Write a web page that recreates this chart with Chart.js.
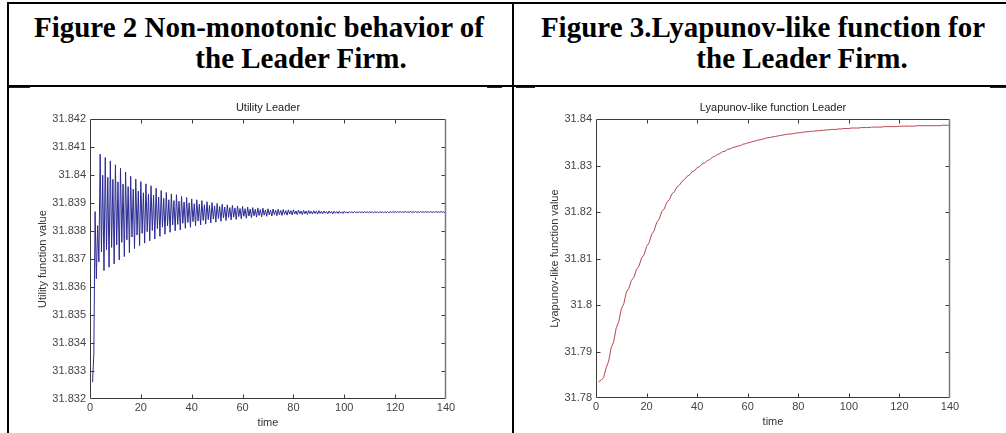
<!DOCTYPE html>
<html>
<head>
<meta charset="utf-8">
<script src="https://cdn.jsdelivr.net/npm/chart.js@4.4.1/dist/chart.umd.min.js"></script>
<style>
  html, body { margin: 0; padding: 0; background: #fff; }
  body { width: 1006px; height: 433px; position: relative; overflow: hidden; }
  .rule { position: absolute; background: #000; }
  .seg { position: absolute; background: #222; height: 1px; }
  .head {
    position: absolute; width: 500px; text-align: center; white-space: nowrap;
    font-family: 'Liberation Serif', 'Times New Roman', serif; font-weight: bold;
    font-size: 29px; line-height: 31px; color: #000;
  }
  canvas { position: absolute; }
</style>
</head>
<body>
<div class="rule" style="left:7px;top:2px;width:999px;height:2px"></div>
<div class="rule" style="left:7px;top:2px;width:2px;height:431px"></div>
<div class="rule" style="left:512px;top:2px;width:2px;height:431px"></div>
<div class="rule" style="left:7px;top:85px;width:999px;height:2px"></div>
<div class="seg" style="left:9px;top:87px;width:21px"></div>
<div class="seg" style="left:487px;top:87px;width:15px"></div>
<div class="seg" style="left:516px;top:87px;width:19px"></div>
<div class="seg" style="left:990px;top:87px;width:16px"></div>

<div class="head" style="left:9px;top:12px">Figure 2 Non-monotonic behavior of</div>
<div class="head" style="left:51px;top:43px">the Leader Firm.</div>
<div class="head" style="left:513px;top:12px">Figure 3.Lyapunov-like function for</div>
<div class="head" style="left:552px;top:43px">the Leader Firm.</div>

<canvas id="utilityChart" width="495" height="341" style="left:10px;top:92px"></canvas>
<canvas id="lyapunovChart" width="490" height="341" style="left:516px;top:92px"></canvas>

<script>
// time axis (both figures)
const timeTicks = [0, 20, 40, 60, 80, 100, 120, 140];

// Utility Leader, sampled every half time unit from t = 1
const utilityStart = 1;
const utilityStep = 0.5;
const utilityValues = [
  31.8326, 31.8336, 31.8387, 31.8363, 31.8382, 31.8369,
  31.84075, 31.83726, 31.84000, 31.83659,  31.84063, 31.83734, 31.83992, 31.83671,
  31.84051, 31.83742, 31.83985, 31.83683,  31.84037, 31.83751, 31.83976, 31.83697,
  31.84025, 31.83760, 31.83968, 31.83709,  31.84011, 31.83769, 31.83959, 31.83723,
  31.83996, 31.83779, 31.83950, 31.83738,  31.83986, 31.83786, 31.83943, 31.83748,
  31.83977, 31.83792, 31.83937, 31.83757,  31.83969, 31.83798, 31.83932, 31.83765,
  31.83962, 31.83802, 31.83928, 31.83772,  31.83953, 31.83809, 31.83922, 31.83781,
  31.83945, 31.83814, 31.83917, 31.83789,  31.83938, 31.83819, 31.83912, 31.83796,
  31.83933, 31.83822, 31.83909, 31.83801,  31.83930, 31.83824, 31.83907, 31.83804,
  31.83924, 31.83828, 31.83904, 31.83810,  31.83920, 31.83831, 31.83901, 31.83814,
  31.83915, 31.83834, 31.83898, 31.83819,  31.83912, 31.83836, 31.83896, 31.83822,
  31.83909, 31.83838, 31.83894, 31.83825,  31.83905, 31.83841, 31.83892, 31.83829,
  31.83902, 31.83843, 31.83890, 31.83832,  31.83899, 31.83845, 31.83888, 31.83835,
  31.83896, 31.83847, 31.83886, 31.83838,  31.83894, 31.83849, 31.83884, 31.83840,
  31.83892, 31.83850, 31.83883, 31.83842,  31.83890, 31.83852, 31.83881, 31.83844,
  31.83888, 31.83853, 31.83880, 31.83846,  31.83886, 31.83854, 31.83879, 31.83848,
  31.83884, 31.83855, 31.83878, 31.83850,  31.83883, 31.83856, 31.83877, 31.83851,
  31.83882, 31.83857, 31.83876, 31.83853,  31.83880, 31.83858, 31.83875, 31.83854,
  31.83879, 31.83859, 31.83875, 31.83855,  31.83878, 31.83859, 31.83874, 31.83856,
  31.83877, 31.83860, 31.83873, 31.83857,  31.83876, 31.83861, 31.83873, 31.83858,
  31.83876, 31.83861, 31.83872, 31.83859,  31.83875, 31.83862, 31.83872, 31.83859,
  31.83874, 31.83862, 31.83872, 31.83860,  31.83874, 31.83863, 31.83871, 31.83861,
  31.83873, 31.83863, 31.83871, 31.83861,  31.83873, 31.83863, 31.83871, 31.83862,
  31.83872, 31.83864, 31.83870, 31.83862,  31.83872, 31.83864, 31.83870, 31.83862,
  31.83871, 31.83864, 31.83870, 31.83863,  31.83871, 31.83864, 31.83869, 31.83863,
  31.83871, 31.83865, 31.83869, 31.83864,
  31.83870, 31.83866, 31.83869, 31.83865,  31.83870, 31.83866, 31.83869, 31.83865,
  31.83870, 31.83866, 31.83869, 31.83865,  31.83870, 31.83866, 31.83869, 31.83865,
  31.83870, 31.83866, 31.83869, 31.83865,  31.83870, 31.83866, 31.83869, 31.83865,
  31.83870, 31.83866, 31.83869, 31.83865,  31.83870, 31.83866, 31.83869, 31.83865,
  31.83870, 31.83867, 31.83869, 31.83867,  31.83870, 31.83867, 31.83869, 31.83867,
  31.83870, 31.83867, 31.83869, 31.83867,  31.83870, 31.83867, 31.83869, 31.83867,
  31.83870, 31.83867, 31.83869, 31.83867,  31.83870, 31.83867, 31.83869, 31.83867,
  31.83870, 31.83867, 31.83869, 31.83867,  31.83870, 31.83867, 31.83869, 31.83867,
  31.83870, 31.83867, 31.83869, 31.83867,  31.83870, 31.83867, 31.83869, 31.83867,
  31.83870, 31.83867, 31.83869, 31.83867,
  31.83869
];
const utilityTicks = [31.832, 31.833, 31.834, 31.835, 31.836, 31.837, 31.838, 31.839, 31.840, 31.841, 31.842];
const utilityTickLabels = ['31.832', '31.833', '31.834', '31.835', '31.836', '31.837', '31.838', '31.839', '31.84', '31.841', '31.842'];

// Lyapunov-like function Leader, one value per time unit from t = 1
const lyapunovStart = 1;
const lyapunovValues = [
  31.7835, 31.7838, 31.7844, 31.7865, 31.7879, 31.7908, 31.7921, 31.7951, 31.7964, 31.7992,
  31.8003, 31.8028, 31.8036, 31.8053, 31.8060, 31.8077, 31.8084, 31.8101, 31.8108, 31.8126,
  31.8134, 31.8152, 31.8160, 31.8178, 31.8185, 31.8201, 31.8207, 31.8221, 31.8227, 31.8239,
  31.8244, 31.8254, 31.8258, 31.8266, 31.8270, 31.8277, 31.8280, 31.8287, 31.8289, 31.8296,
  31.8298, 31.8304, 31.8306, 31.8311, 31.8313, 31.8318, 31.8320, 31.8324, 31.8326, 31.8330,
  31.8331, 31.8335, 31.8336, 31.8339, 31.8340, 31.8342, 31.8343, 31.8346, 31.8347, 31.8349,
  31.8350, 31.8352, 31.8353, 31.8355, 31.8356, 31.8357, 31.8359, 31.8360, 31.8361, 31.8362,
  31.8363, 31.8364, 31.8365, 31.8366, 31.8367, 31.8368, 31.8368, 31.8369, 31.8370, 31.8371,
  31.8371, 31.8372, 31.8373, 31.8373, 31.8374, 31.8374, 31.8375, 31.8375, 31.8376, 31.8376,
  31.8377, 31.8377, 31.8378, 31.8378, 31.8378, 31.8379, 31.8379, 31.8380, 31.8380, 31.8380,
  31.8381, 31.8381, 31.8381, 31.8381, 31.8382, 31.8382, 31.8382, 31.8382, 31.8383, 31.8383,
  31.8383, 31.8383, 31.8383, 31.8384, 31.8384, 31.8384, 31.8384, 31.8384, 31.8384, 31.8385,
  31.8385, 31.8385, 31.8385, 31.8385, 31.8385, 31.8385, 31.8386, 31.8386, 31.8386, 31.8386,
  31.8386, 31.8386, 31.8386, 31.8386, 31.8386, 31.8386, 31.8387, 31.8387, 31.8387, 31.8387
];
const lyapunovTicks = [31.78, 31.79, 31.80, 31.81, 31.82, 31.83, 31.84];
const lyapunovTickLabels = ['31.78', '31.79', '31.8', '31.81', '31.82', '31.83', '31.84'];

Chart.defaults.font.family = "'Liberation Sans', Arial, sans-serif";
Chart.defaults.font.size = 11;
Chart.defaults.color = '#333';
Chart.defaults.animation = false;

// matlab style axes box with inward ticks on all four sides
const boxTicks = {
  id: 'boxTicks',
  afterDatasetsDraw(chart) {
    const { ctx, chartArea: a, scales } = chart;
    const L = Math.round(a.left) + 0.5, R = Math.round(a.right) - 0.5;
    const T = Math.round(a.top) + 0.5, B = Math.round(a.bottom) - 0.5;
    const len = 4;
    ctx.save();
    ctx.lineWidth = 1;
    ctx.strokeStyle = '#3a3a3a';
    ctx.beginPath();
    ctx.moveTo(L, B); ctx.lineTo(L, T); ctx.lineTo(R, T);
    ctx.moveTo(L, B); ctx.lineTo(R, B);
    scales.x.ticks.forEach(t => {
      const px = Math.round(scales.x.getPixelForValue(t.value)) + 0.5;
      if (px <= L + 1 || px >= R - 1) return;
      ctx.moveTo(px, B); ctx.lineTo(px, B - len);
      ctx.moveTo(px, T); ctx.lineTo(px, T + len);
    });
    scales.y.ticks.forEach(t => {
      const py = Math.round(scales.y.getPixelForValue(t.value)) + 0.5;
      if (py <= T + 1 || py >= B - 1) return;
      ctx.moveTo(L, py); ctx.lineTo(L + len, py);
      ctx.moveTo(R, py); ctx.lineTo(R - len, py);
    });
    ctx.stroke();
    ctx.strokeStyle = '#7a7a7a';
    ctx.lineWidth = 1.5;
    ctx.beginPath();
    ctx.moveTo(R, T); ctx.lineTo(R, B + 0.5);
    ctx.stroke();
    ctx.restore();
  }
};

function makeChart(id, cfg) {
  const ctx = document.getElementById(id).getContext('2d');
  return new Chart(ctx, {
    type: 'line',
    data: {
      datasets: [{
        data: cfg.points,
        borderColor: cfg.color,
        borderWidth: 1,
        pointRadius: 0,
        tension: 0,
        fill: false
      }]
    },
    options: {
      responsive: false,
      layout: { padding: { left: 0, right: cfg.padRight, top: 0, bottom: 0 } },
      plugins: {
        legend: { display: false },
        tooltip: { enabled: false },
        title: {
          display: true,
          text: cfg.title,
          fullSize: false,
          color: '#222',
          font: { size: 11, weight: 'normal' },
          padding: { top: 9, bottom: 5 }
        }
      },
      scales: {
        x: {
          type: 'linear',
          min: 0,
          max: 140,
          afterBuildTicks: s => { s.ticks = timeTicks.map(v => ({ value: v })); },
          afterFit: s => { s.height = cfg.xHeight; },
          grid: { display: false, drawTicks: false },
          border: { display: false },
          ticks: { padding: 2, color: '#444', autoSkip: false, maxRotation: 0 },
          title: { display: true, text: 'time', color: '#333', padding: { top: 0, bottom: cfg.xTitlePad } }
        },
        y: {
          type: 'linear',
          min: cfg.yTicks[0],
          max: cfg.yTicks[cfg.yTicks.length - 1],
          afterBuildTicks: s => { s.ticks = cfg.yTicks.map(v => ({ value: v })); },
          afterFit: s => { s.width = 80; },
          grid: { display: false, drawTicks: false },
          border: { display: false },
          ticks: { padding: cfg.yTickPad, color: '#444', autoSkip: false, callback: (v, i) => cfg.yLabels[i] },
          title: { display: true, text: cfg.yTitle, color: '#333', padding: { top: cfg.yTitlePad, bottom: 0 } }
        }
      }
    },
    plugins: [boxTicks]
  });
}

makeChart('utilityChart', {
  points: utilityValues.map((v, i) => ({ x: utilityStart + i * utilityStep, y: v })),
  color: '#2b2b94',
  title: 'Utility Leader',
  yTitle: 'Utility function value',
  yTicks: utilityTicks,
  yLabels: utilityTickLabels,
  padRight: 59,
  xHeight: 34,
  xTitlePad: 3,
  yTitlePad: 26,
  yTickPad: 4
});

makeChart('lyapunovChart', {
  points: lyapunovValues.map((v, i) => ({ x: lyapunovStart + i, y: v })),
  color: '#b8454f',
  title: 'Lyapunov-like function Leader',
  yTitle: 'Lyapunov-like function value',
  yTicks: lyapunovTicks,
  yLabels: lyapunovTickLabels,
  padRight: 56,
  xHeight: 35,
  xTitlePad: 4,
  yTitlePad: 32,
  yTickPad: 4
});
</script>
</body>
</html>
